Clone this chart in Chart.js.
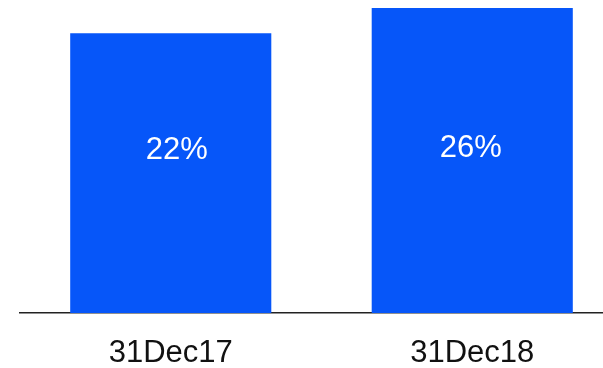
<!DOCTYPE html>
<html>
<head>
<meta charset="utf-8">
<script src="https://cdn.jsdelivr.net/npm/chart.js@4.4.1/dist/chart.umd.min.js"></script>
<style>
  html, body { margin: 0; padding: 0; background: #fff; overflow: hidden; }
  /* the category axis runs past the right edge, so the canvas is cropped */
  #wrap { width: 603px; height: 368px; overflow: hidden; }
  canvas { display: block; }
</style>
</head>
<body>
<div id="wrap"><canvas id="barChart" width="623" height="368"></canvas></div>
<script>
const categories = ["31Dec17", "31Dec18"];
const values = [22, 26];
const valueLabels = ["22%", "26%"];

// axis range: the bars rise from the bottom of the value axis
const axisMin = -22.3;
const axisMax = 27.27;

const fontFamily = "'Liberation Sans', Arial, sans-serif";

// writes the percentage inside each bar
const barLabels = {
  id: "barLabels",
  afterDatasetsDraw(chart, args, opts) {
    const ctx = chart.ctx;
    const meta = chart.getDatasetMeta(0);
    ctx.save();
    ctx.fillStyle = "#ffffff";
    ctx.font = "31px " + fontFamily;
    ctx.textAlign = "center";
    ctx.textBaseline = "middle";
    meta.data.forEach((bar, i) => {
      const shift = opts.shift[i] || [0, 0];
      ctx.fillText(valueLabels[i], bar.x + shift[0], opts.y + shift[1]);
    });
    ctx.restore();
  }
};

document.addEventListener("DOMContentLoaded", () => {
  const ctx = document.getElementById("barChart").getContext("2d");
  new Chart(ctx, {
    type: "bar",
    data: {
      labels: categories,
      datasets: [{
        data: values,
        base: axisMin,
        backgroundColor: "#0656f9",
        borderWidth: 0,
        categoryPercentage: 1,
        barPercentage: 0.667
      }]
    },
    options: {
      responsive: false,
      maintainAspectRatio: false,
      animation: false,
      layout: { padding: { left: 20, right: 0, top: 0, bottom: 0 } },
      plugins: {
        legend: { display: false },
        tooltip: { enabled: false },
        barLabels: { y: 150, shift: [[6, 0.5], [-1.5, -1.5]] }
      },
      scales: {
        x: {
          grid: { display: false, drawTicks: false },
          border: { display: true, color: "#222222", width: 1.5 },
          ticks: {
            color: "#111111",
            padding: 22,
            font: { family: fontFamily, size: 31 }
          },
          afterFit(scale) {
            scale.height = 55;
          }
        },
        y: {
          display: false,
          min: axisMin,
          max: axisMax
        }
      }
    },
    plugins: [barLabels]
  });
});
</script>
</body>
</html>
